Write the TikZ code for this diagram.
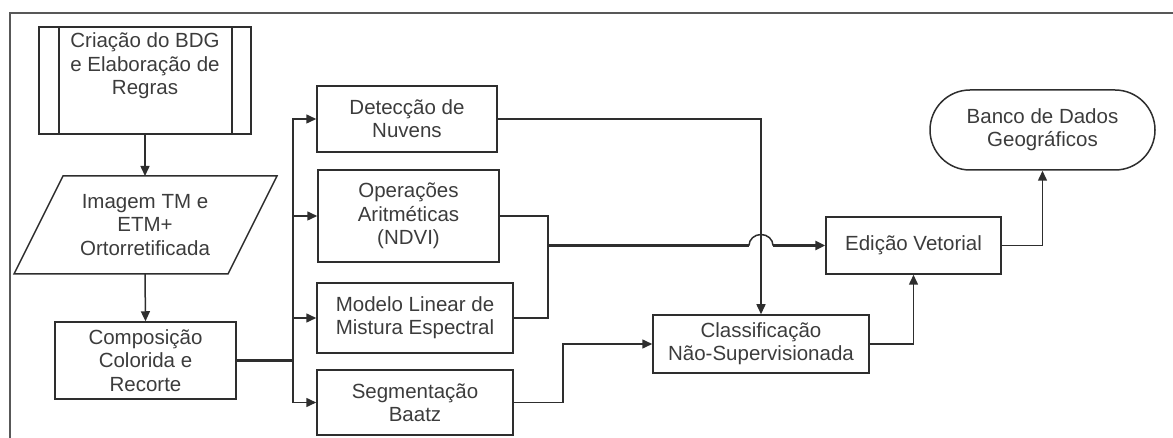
\documentclass[tikz,border=0pt]{standalone}
\usepackage{fontspec}
\setmainfont{Liberation Sans}
\usetikzlibrary{arrows.meta}
\definecolor{ln}{HTML}{2E2E2E}
\definecolor{tx}{HTML}{3C3C3C}
\tikzset{
  line/.style={draw=ln, line width=1.5pt},
  thick line/.style={draw=ln, line width=2.6pt},
  arr/.style={line, -{Triangle[length=10pt,width=9pt]}},
  boxnode/.style={line, rectangle, inner sep=0pt, align=center, text=tx,
    font=\fontsize{20.5}{23.3}\selectfont},
  txt/.style={inner sep=0pt, align=center, text=tx, font=\fontsize{20.5}{23.3}\selectfont},
}
\begin{document}
\begin{tikzpicture}[x=1pt,y=-1pt]
\useasboundingbox (0,0) rectangle (1173,438);
% outer frame (cropped)
\draw[draw=ln!80, line width=2pt] (10,438) -- (10,13) -- (1173,13);

% Criação (predefined process)
\node[boxnode, minimum width=212pt, minimum height=107pt] (crea) at (145,80.5) {};
\draw[line] (59,27) -- (59,134) (232,27) -- (232,134);
\node[txt] (creat) at (145,66) {Criação do BDG\\e Elaboração de\\Regras};

% Imagem parallelogram
\draw[line] (63,176) coordinate (imgT0) -- (277,176) -- (228,274) -- (14,274) -- cycle;
\coordinate (imgT) at (145,176);
\coordinate (imgB) at (145,274);
\node[txt] (img) at (145,225) {Imagem TM e\\ETM+\\Ortorretificada};

% Composição
\node[boxnode, minimum width=181pt, minimum height=77pt] (comp) at (145.5,360.5) {Composição\\Colorida e\\Recorte};

% middle column
\node[boxnode, minimum width=180pt, minimum height=66pt] (det) at (407,119) {Detecção de\\Nuvens};
\node[boxnode, minimum width=181pt, minimum height=92pt] (ops) at (408.5,216) {Operações\\Aritméticas\\(NDVI)};
\node[boxnode, minimum width=196pt, minimum height=70pt] (mod) at (415,318) {Modelo Linear de\\Mistura Espectral};
\node[boxnode, minimum width=196pt, minimum height=65pt] (seg) at (415,402.5) {Segmentação\\Baatz};

% right part
\node[boxnode, minimum width=216pt, minimum height=58pt] (cls) at (761,344) {Classificação\\Não-Supervisionada};
\node[boxnode, minimum width=175pt, minimum height=57pt] (edi) at (913.5,245.5) {Edição Vetorial};
\node[boxnode, minimum width=225pt, minimum height=80pt, rounded corners=40pt] (ban) at (1042.5,130) {Banco de Dados\\Geográficos};

% connectors
\draw[arr] (crea.south) -- (imgT);
\draw[arr] (imgB) -- (comp.north);
\coordinate (bus) at (293,360.5);
\draw[thick line] (comp.east) -- (bus);
\draw[arr] (bus) |- (det.west);
\draw[arr] (bus) |- (ops.west);
\draw[arr] (bus) |- (mod.west);
\draw[arr] (bus) |- (seg.west);

\draw[arr] (det.east) -| (cls.north);

\coordinate (mx) at (548,245.5);
\draw[line] (ops.east) -| (mx);
\draw[line] (mod.east) -| (mx);
\coordinate (jL) at (749,245.5);
\coordinate (jR) at (773,245.5);
\draw[thick line] (mx) -- (jL);
\draw[line] (jL) arc[start angle=180, end angle=0, x radius=12pt, y radius=11pt];
\draw[thick line, -{Triangle[length=10pt,width=9pt]}] (jR) -- (edi.west);

\coordinate (sg) at (563,402.5);
\draw[line] (seg.east) -- (sg);
\draw[arr] (sg) |- (cls.west);

\draw[arr] (cls.east) -| (edi.south);
\draw[arr] (edi.east) -| (ban.south);
\end{tikzpicture}
\end{document}
